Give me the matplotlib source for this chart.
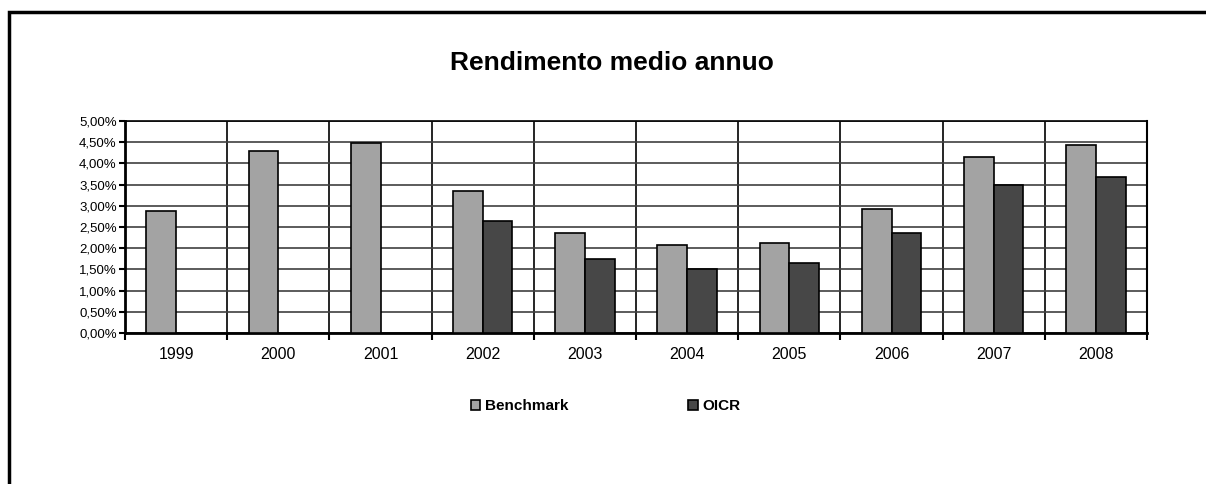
import numpy as np
import matplotlib.pyplot as plt
from matplotlib.patches import Rectangle
from matplotlib.ticker import FuncFormatter

plt.rcParams['font.family'] = ['Liberation Sans', 'DejaVu Sans']

# data (percent)
years = ['1999', '2000', '2001', '2002', '2003', '2004', '2005', '2006', '2007', '2008']
benchmark = [2.88, 4.30, 4.48, 3.35, 2.36, 2.07, 2.12, 2.92, 4.15, 4.44]
oicr = [np.nan, np.nan, np.nan, 2.64, 1.74, 1.50, 1.65, 2.36, 3.49, 3.68]

fig = plt.figure(figsize=(12.06, 4.84), dpi=100)
ax = fig.add_axes([125/1206, 1-333/484, (1147-125)/1206, (333-121)/484])

x = np.arange(len(years))
w = 0.29
ax.bar(x - w/2, benchmark, w, color='#a3a3a3', edgecolor='black', linewidth=1.2,
       label='Benchmark', zorder=3)
ax.bar(x + w/2, oicr, w, color='#474747', edgecolor='black', linewidth=1.2,
       label='OICR', zorder=3)

ax.set_xlim(-0.5, len(years) - 0.5)
ax.set_ylim(0, 5)
ax.set_yticks(np.arange(0, 5.01, 0.5))
ax.yaxis.set_major_formatter(FuncFormatter(lambda v, p: ('%.2f%%' % v).replace('.', ',')))

# category separators as major ticks + vertical grid, labels on minor ticks
ax.set_xticks(np.arange(-0.5, len(years), 1.0))
ax.set_xticklabels([])
ax.set_xticks(x, minor=True)
ax.set_xticklabels(years, minor=True, fontsize=11.5)
ax.tick_params(axis='x', which='major', length=5, width=1.5, direction='out')
ax.tick_params(axis='x', which='minor', length=0, pad=10)
ax.tick_params(axis='y', length=4, width=1.5, labelsize=9.5, pad=2)

ax.grid(True, axis='y', color='#404040', linewidth=1.2, zorder=0)
ax.grid(True, axis='x', which='major', color='black', linewidth=1.2, zorder=0)
for s in ['left', 'bottom']:
    ax.spines[s].set_linewidth(2)
ax.spines['right'].set_linewidth(1.5)
ax.spines['top'].set_linewidth(1.2)

fig.text(0.507, 1 - 63/484, 'Rendimento medio annuo', ha='center', va='center',
         fontsize=19, fontweight='bold')

fig.legend(loc='center', bbox_to_anchor=(0.502, 1 - 406/484), ncol=2, frameon=False,
           prop={'weight': 'bold', 'size': 11}, handlelength=0.65, handleheight=0.65,
           handletextpad=0.3, columnspacing=7.8)

# chart area border (runs off the right and bottom edges)
fig.patches.append(Rectangle((9/1206, -0.1), 1.2, 1 - 12/484 + 0.1, transform=fig.transFigure,
                             fill=False, edgecolor='black', linewidth=2.5))

fig.savefig('out.png', dpi=100)
